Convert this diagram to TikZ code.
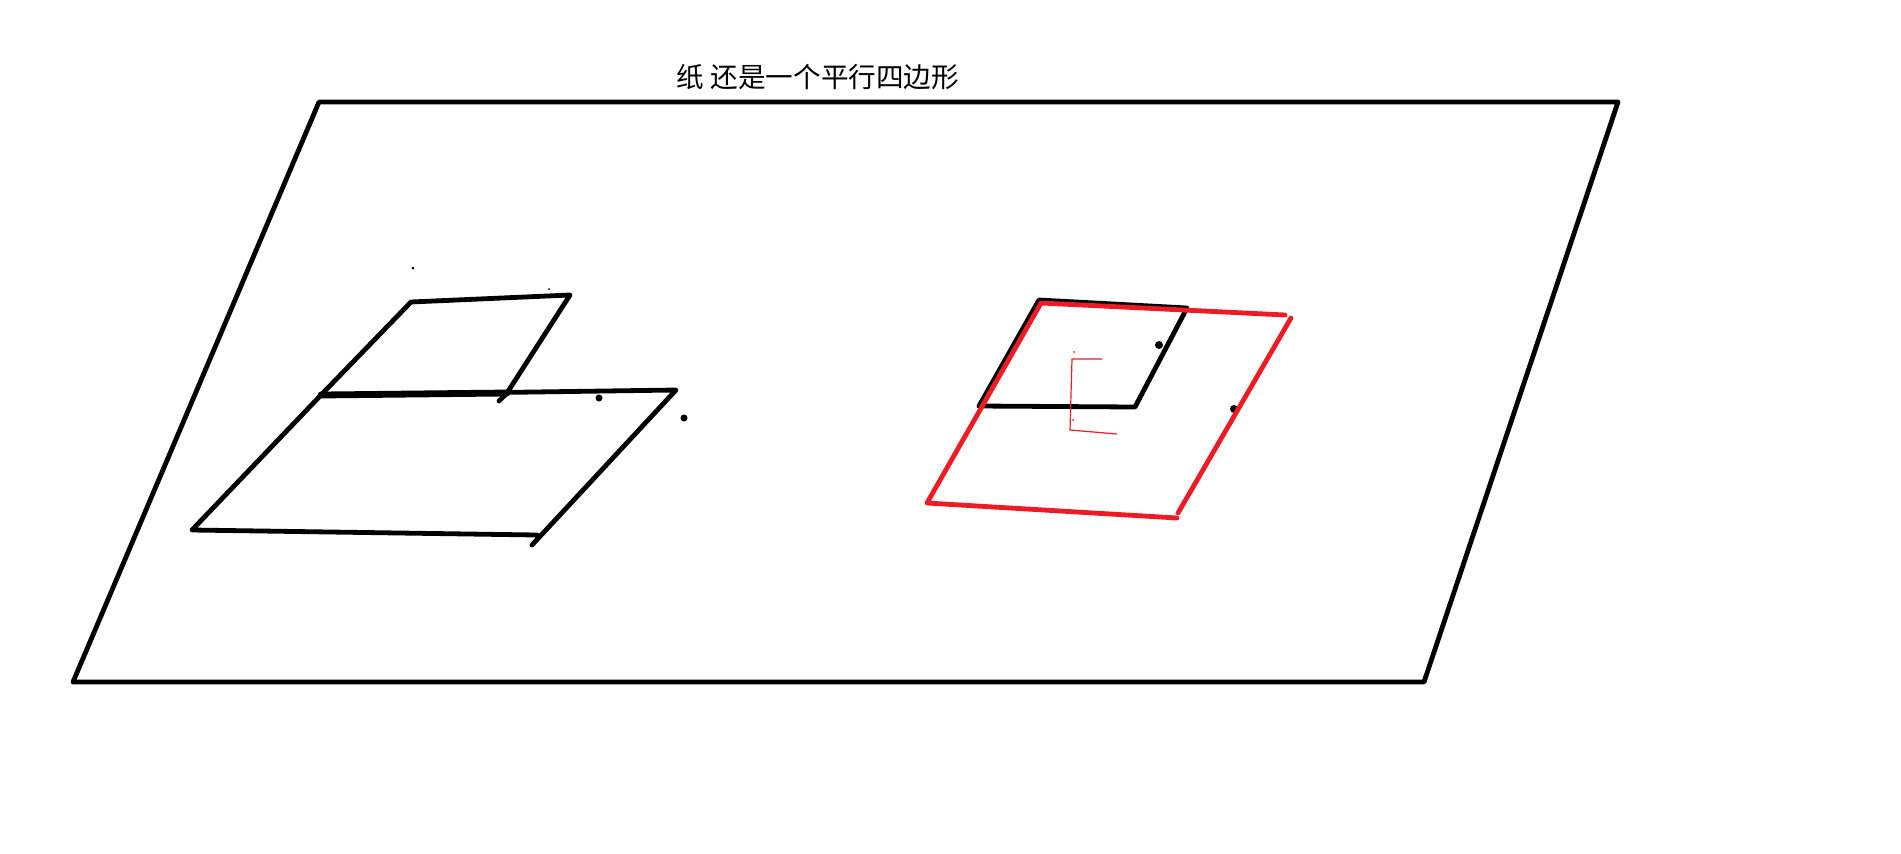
\documentclass[tikz,border=0pt]{standalone}
\usepackage{fontspec}
\newfontfamily\cjk{Noto Sans CJK SC}
\definecolor{paintred}{RGB}{237,28,36}
\tikzset{
pen/.style={line width=2.4pt,line cap=round,line join=round},
redpen/.style={pen,draw=paintred},
thinpen/.style={line width=0.6pt,draw=paintred},
spot/.style={circle,fill=black,inner sep=0pt,minimum size=#1},
redspot/.style={circle,fill=paintred,inner sep=0pt,minimum size=#1}
}
\begin{document}
\begin{tikzpicture}[x=0.5pt,y=-0.5pt]
\useasboundingbox (0,0) rectangle (1901,853);
\node[node font={\cjk\fontsize{13.8pt}{16pt}\selectfont},anchor=center] (title) at (818,77){纸 还是一个平行四边形};

\coordinate (P1) at (319,102);
\coordinate (P2) at (1618,102);
\coordinate (P3) at (1424,682);
\coordinate (P4) at (73,682);
\draw[pen] (P1) -- (P2) -- (P3) -- (P4) -- cycle;

\coordinate (A1) at (192,530);
\coordinate (A2) at (321,395);
\coordinate (A3) at (676,390);
\coordinate (A4) at (532,545);
\coordinate (A5) at (537,535);
\draw[pen] (A5) -- (A1) -- (A2) -- (A3) -- (A4);

\coordinate (B1) at (411,302);
\coordinate (B2) at (570,295);
\coordinate (B3) at (507,393);
\coordinate (B4) at (499,401);
\draw[pen] (A2) -- (B1) -- (B2) -- (B3) -- (B4);
\draw[pen,line width=3.4pt] (A2) -- (B3);

\node[spot=3.5pt] (d1) at (599,398){};
\node[spot=3.5pt] (d2) at (684,418){};
\node[spot=1.5pt] (d3) at (413,268){};
\node[spot=1pt] (d4) at (549,289){};

\coordinate (C1) at (1039,300);
\coordinate (C2) at (1187,308);
\coordinate (C3) at (1135,407);
\coordinate (C4) at (979,406);
\draw[pen] (C4) -- (C1) -- (C2) -- (C3) -- (C4);

\node[spot=4pt] (d5) at (1159,345){};
\node[spot=4pt] (d6) at (1234,409){};

\coordinate (R1) at (1041,303);
\coordinate (R2) at (1285,315);
\coordinate (R3) at (1291,318);
\coordinate (R4) at (1178,513);
\coordinate (R5) at (1177,518);
\coordinate (R6) at (927,503);
\draw[redpen] (R2) -- (R1) -- (R6) -- (R5);
\draw[redpen] (R3) -- (R4);

\coordinate (S1) at (1102,359);
\coordinate (S2) at (1072,359);
\coordinate (S3) at (1070,430);
\coordinate (S4) at (1117,434);
\draw[thinpen] (S1) -- (S2) -- (S3) -- (S4);
\node[redspot=1pt] (d7) at (1074,352){};
\node[redspot=1pt] (d8) at (1073,420){};
\end{tikzpicture}
\end{document}
